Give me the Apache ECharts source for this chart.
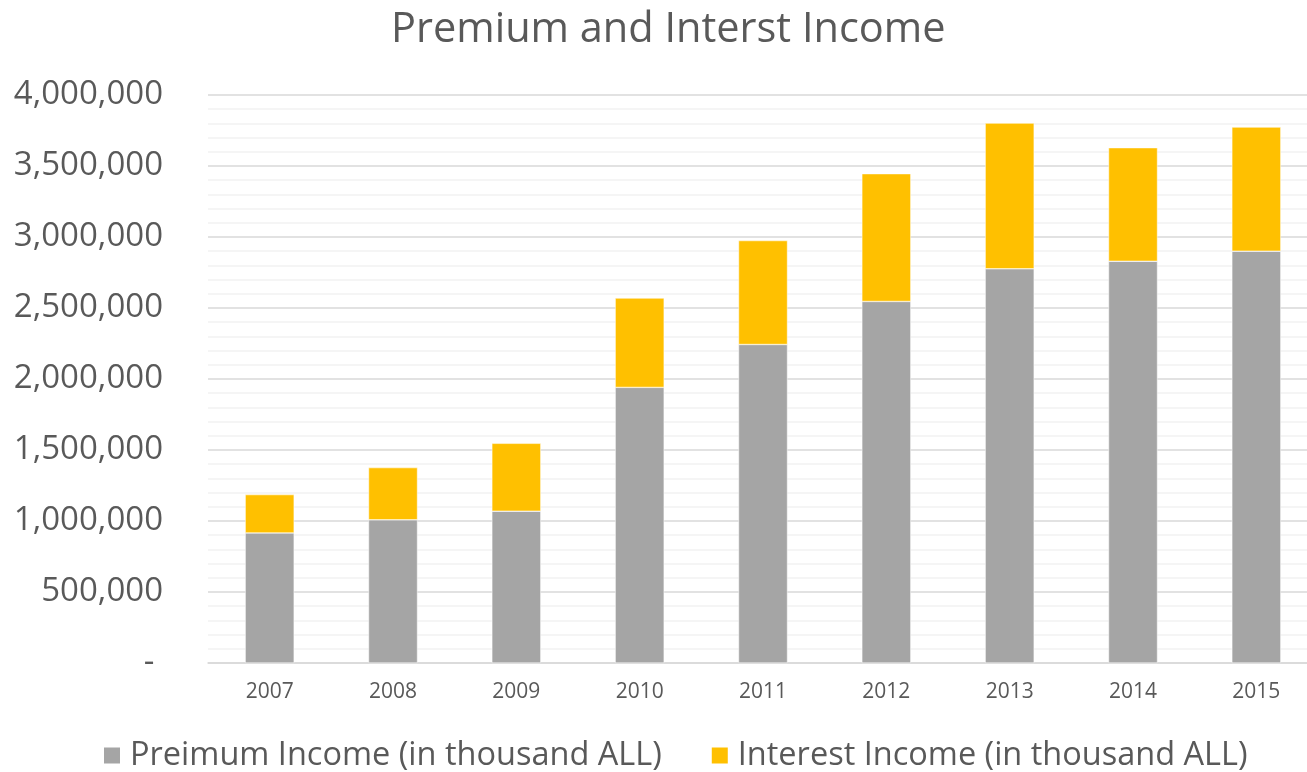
<!DOCTYPE html>
<html>
<head>
<meta charset="utf-8">
<script src="https://cdn.jsdelivr.net/npm/echarts@6/dist/echarts.min.js"></script>
<style>html,body{margin:0;padding:0;background:#fff;}#c{width:1307px;height:772px;}</style>
</head>
<body>
<div id="c"></div>
<script>
const titleText = "Premium and Interst Income";
const categories = ["2007","2008","2009","2010","2011","2012","2013","2014","2015"];
const premiumName = "Preimum Income (in thousand ALL)";
const interestName = "Interest Income (in thousand ALL)";
const premium = [916000, 1008000, 1069000, 1941000, 2243000, 2546000, 2776000, 2829000, 2900000];
const interest = [270000, 368000, 478000, 629000, 732000, 900000, 1026000, 800000, 874000];
const yMin = 0, yMax = 4000000, yInterval = 500000;

const FONT = "'Open Sans', sans-serif";
const TXT = "#595959";
const chart = echarts.init(document.getElementById('c'), null, {renderer:'canvas'});
chart.setOption({
  animation:false,
  backgroundColor:'#ffffff',
  title:{text:titleText,left:386,top:4,textStyle:{fontFamily:FONT,fontSize:41.5,fontWeight:'normal',color:TXT}},
  grid:{left:208,top:95,width:1110,height:568,containLabel:false,outerBoundsMode:'none'},
  legend:{
    data:[premiumName,interestName],top:734,left:97,icon:'rect',itemWidth:18,itemHeight:18,itemGap:48,
    textStyle:{fontFamily:FONT,fontSize:32.5,color:TXT,padding:[0,0,0,4]}
  },
  xAxis:{type:'category',data:categories,
    axisLine:{show:true,lineStyle:{color:'#D9D9D9',width:1.5}},axisTick:{show:false},
    axisLabel:{fontFamily:FONT,fontSize:21,color:TXT,margin:19}},
  yAxis:{type:'value',min:yMin,max:yMax,interval:yInterval,
    axisLine:{show:false},axisTick:{show:false},
    axisLabel:{fontFamily:FONT,fontSize:33,color:TXT,margin:45,
      formatter:v=> v===0 ? '- ' : v.toLocaleString('en-US')},
    splitLine:{lineStyle:{color:'#D9D9D9',width:1.5}},
    minorTick:{show:false,splitNumber:5},
    minorSplitLine:{show:true,lineStyle:{color:'#F2F2F2',width:1.5}}},
  series:[
    {name:premiumName,type:'bar',stack:'t',data:premium,barWidth:49,itemStyle:{color:'#A5A5A5',borderColor:'#ffffff',borderWidth:0.5}},
    {name:interestName,type:'bar',stack:'t',data:interest,barWidth:49,itemStyle:{color:'#FFC000',borderColor:'#ffffff',borderWidth:0.5}}
  ]
});
</script>
</body>
</html>
